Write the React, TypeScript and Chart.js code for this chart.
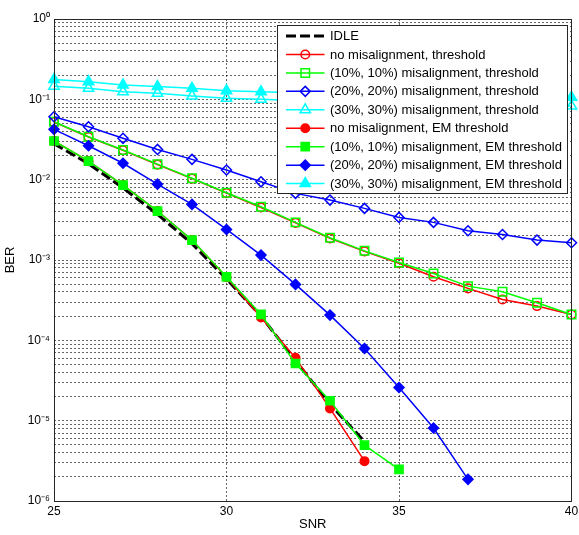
import React, { useEffect, useRef } from 'react';
import { Chart, registerables } from 'chart.js';

Chart.register(...registerables);

// ---- Data ----
const snr = [25, 26, 27, 28, 29, 30, 31, 32, 33, 34, 35, 36, 37, 38, 39, 40];

const idle = [0.028, 0.0158, 0.0079, 0.0037, 0.0016, 0.00058, 0.0002, 5.6e-5, 1.6e-5, 5.5e-6];

const noMisThreshold = [0.052, 0.034, 0.0232, 0.0154, 0.0103, 0.0068, 0.0045, 0.0029, 0.00186, 0.00128, 0.00091, 0.000618, 0.000443, 0.000323, 0.000267, 0.00021];
const mis10Threshold = [0.0526, 0.0342, 0.0234, 0.0156, 0.0104, 0.00687, 0.0046, 0.00294, 0.00189, 0.0013, 0.00093, 0.00068, 0.000473, 0.000402, 0.000293, 0.00021];
const mis20Threshold = [0.0607, 0.0456, 0.0327, 0.0238, 0.0179, 0.0132, 0.0094, 0.00675, 0.00557, 0.00439, 0.00339, 0.00294, 0.00231, 0.00208, 0.00177, 0.00164];
const mis30Threshold = [0.146, 0.137, 0.124, 0.119, 0.11, 0.103, 0.1, 0.097, 0.095, 0.093, 0.091, 0.089, 0.087, 0.085, 0.084, 0.0826];

const noMisEM = [0.0303, 0.017, 0.00857, 0.00407, 0.00177, 0.00061, 0.000193, 6.05e-5, 1.42e-5, 3.13e-6];
const mis10EM = [0.0303, 0.017, 0.00857, 0.00407, 0.00177, 0.000618, 0.00021, 5.15e-5, 1.77e-5, 4.95e-6, 2.47e-6];
const mis20EM = [0.0423, 0.0264, 0.016, 0.0088, 0.00492, 0.0024, 0.00115, 0.000497, 0.000206, 7.9e-5, 2.59e-5, 8.1e-6, 1.86e-6];
const mis30EM = [0.177, 0.166, 0.151, 0.144, 0.137, 0.128, 0.124, 0.121, 0.119, 0.117, 0.115, 0.113, 0.111, 0.109, 0.107, 0.106];

const seriesLabels = [
  'IDLE',
  'no misalignment, threshold',
  '(10%, 10%) misalignment, threshold',
  '(20%, 20%) misalignment, threshold',
  '(30%, 30%) misalignment, threshold',
  'no misalignment, EM threshold',
  '(10%, 10%) misalignment, EM threshold',
  '(20%, 20%) misalignment, EM threshold',
  '(30%, 30%) misalignment, EM threshold',
];
const seriesValues = [idle, noMisThreshold, mis10Threshold, mis20Threshold, mis30Threshold, noMisEM, mis10EM, mis20EM, mis30EM];

const xTicks = [25, 30, 35, 40];
const yDecades = [-6, -5, -4, -3, -2, -1, 0];

// ---- Styles ----
const FONT = "'Liberation Sans', Arial, Helvetica, sans-serif";
type Sty = { color: string; marker: string | null; filled: boolean; r: number; width: number; dash?: number[] };
const styles: Sty[] = [
  { color: '#000000', marker: null, filled: false, r: 0, width: 3, dash: [10, 4] },
  { color: '#ff0000', marker: 'circle', filled: false, r: 4.3, width: 1.5 },
  { color: '#00ff00', marker: 'rect', filled: false, r: 6, width: 1.5 },
  { color: '#0000ff', marker: 'rectRot', filled: false, r: 5, width: 1.5 },
  { color: '#00ffff', marker: 'triangle', filled: false, r: 6, width: 1.5 },
  { color: '#ff0000', marker: 'circle', filled: true, r: 4.3, width: 1.5 },
  { color: '#00ff00', marker: 'rect', filled: true, r: 5.8, width: 1.5 },
  { color: '#0000ff', marker: 'rectRot', filled: true, r: 5, width: 1.5 },
  { color: '#00ffff', marker: 'triangle', filled: true, r: 6, width: 1.5 },
];

const SUP: Record<string, string> = { '0': '⁰', '1': '¹', '2': '²', '3': '³', '4': '⁴', '5': '⁵', '6': '⁶', '7': '⁷', '8': '⁸', '9': '⁹', '-': '⁻' };
const supText = (n: number) => String(n).split('').map((c) => SUP[c] || c).join('');

function yTickValues(): number[] {
  const out: number[] = [];
  for (const k of yDecades) {
    if (k === 0) { out.push(1); break; }
    for (let m = 1; m <= 9; m++) out.push(m * Math.pow(10, k));
  }
  return out;
}

function drawMarker(ctx: CanvasRenderingContext2D, shape: string, x: number, y: number, r: number) {
  ctx.beginPath();
  if (shape === 'circle') {
    ctx.arc(x, y, r, 0, Math.PI * 2);
  } else if (shape === 'rect') {
    const s = Math.SQRT1_2 * r;
    ctx.rect(x - s, y - s, 2 * s, 2 * s);
  } else if (shape === 'rectRot') {
    ctx.moveTo(x - r, y);
    ctx.lineTo(x, y - r);
    ctx.lineTo(x + r, y);
    ctx.lineTo(x, y + r);
    ctx.closePath();
  } else if (shape === 'triangle') {
    for (let i = 0; i < 3; i++) {
      const a = (i * 2 * Math.PI) / 3;
      const px = x + Math.sin(a) * r;
      const py = y - Math.cos(a) * r;
      if (i === 0) ctx.moveTo(px, py); else ctx.lineTo(px, py);
    }
    ctx.closePath();
  }
}

const framePlugin = {
  id: 'frameAndLegend',
  afterDraw(chart: any) {
    const { ctx, chartArea } = chart;
    const { left, top, right, bottom } = chartArea;
    ctx.save();
    // axes box
    ctx.strokeStyle = '#262626';
    ctx.lineWidth = 1;
    ctx.setLineDash([]);
    ctx.strokeRect(Math.round(left) + 0.5, Math.round(top) + 0.5, Math.round(right - left) - 1, Math.round(bottom - top));

    // legend
    const lw = 290, lh = 168;
    const lx = Math.round(right - 5 - lw) + 0.5;
    const ly = Math.round(top + 6) + 0.5;
    ctx.fillStyle = '#ffffff';
    ctx.fillRect(lx, ly, lw, lh);
    ctx.strokeStyle = '#262626';
    ctx.strokeRect(lx, ly, lw, lh);
    const rowH = 18.45;
    ctx.font = `13px ${FONT}`;
    ctx.textBaseline = 'middle';
    ctx.textAlign = 'left';
    seriesLabels.forEach((label, i) => {
      const st = styles[i];
      const cy = ly + 10.5 + i * rowH;
      const x0 = lx + 8.5, x1 = lx + 47;
      ctx.save();
      ctx.strokeStyle = st.color;
      ctx.lineWidth = st.width;
      ctx.setLineDash(st.dash || []);
      ctx.beginPath();
      ctx.moveTo(x0, cy);
      ctx.lineTo(x1, cy);
      ctx.stroke();
      ctx.setLineDash([]);
      if (st.marker) {
        drawMarker(ctx, st.marker, (x0 + x1) / 2, cy, st.r);
        if (st.filled) { ctx.fillStyle = st.color; ctx.fill(); }
        ctx.lineWidth = 1.5;
        ctx.stroke();
      }
      ctx.restore();
      ctx.fillStyle = '#000000';
      ctx.fillText(label, lx + 52.5, cy + 0.5);
    });
    ctx.restore();
  },
};

export default function App() {
  const ref = useRef<HTMLCanvasElement>(null);
  useEffect(() => {
    if (!ref.current) return;
    const datasets = seriesValues.map((vals, i) => {
      const st = styles[i];
      return {
        label: seriesLabels[i],
        data: vals.map((v, j) => ({ x: snr[j], y: v })),
        borderColor: st.color,
        borderWidth: st.width,
        borderDash: st.dash || [],
        pointStyle: st.marker || 'circle',
        pointRadius: st.marker ? st.r : 0,
        pointBorderWidth: 1.5,
        pointBorderColor: st.color,
        pointBackgroundColor: st.filled ? st.color : 'rgba(0,0,0,0)',
        fill: false,
        tension: 0,
        clip: false as any,
        order: seriesValues.length - i,
      };
    });
    const yVals = yTickValues();
    const gridColor = 'rgba(0,0,0,0.6)';
    const chart = new Chart(ref.current, {
      type: 'line',
      data: { datasets },
      plugins: [framePlugin],
      options: {
        animation: false,
        responsive: false,
        devicePixelRatio: 1,
        layout: { padding: { left: 0, top: 19, right: 6, bottom: 0 } },
        plugins: { legend: { display: false }, tooltip: { enabled: false } },
        scales: {
          x: {
            type: 'linear',
            min: 25,
            max: 40,
            afterBuildTicks: (s: any) => { s.ticks = xTicks.map((v) => ({ value: v })); },
            ticks: { padding: 3, color: '#000', font: { family: FONT, size: 12 }, maxRotation: 0, autoSkip: false },
            grid: { color: gridColor, lineWidth: 1, drawTicks: false },
            border: { display: false, dash: [2, 2] },
            title: { display: true, text: 'SNR', color: '#000', font: { family: FONT, size: 13 }, padding: { top: 0, bottom: 3 } },
            afterFit: (s: any) => { s.height = 34; s.paddingLeft = 0; s.paddingRight = 0; },
          },
          y: {
            type: 'logarithmic',
            min: 1e-6,
            max: 1,
            afterBuildTicks: (s: any) => { s.ticks = yVals.map((v) => ({ value: v })); },
            ticks: {
              autoSkip: false,
              padding: 4,
              color: '#000',
              font: { family: FONT, size: 12 },
              callback: (value: any) => {
                const l = Math.log10(Number(value));
                const k = Math.round(l);
                return Math.abs(l - k) < 1e-6 ? '10' + supText(k) : '';
              },
            },
            grid: { color: gridColor, lineWidth: 1, drawTicks: false },
            border: { display: false, dash: [2, 2] },
            title: { display: true, text: 'BER', color: '#000', font: { family: FONT, size: 13 }, padding: { top: 3, bottom: 0 } },
            afterFit: (s: any) => { s.width = 54; s.paddingTop = 0; s.paddingBottom = 0; },
          },
        },
      } as any,
    });
    return () => chart.destroy();
  }, []);
  return (
    <div style={{ position: 'absolute', left: 0, top: 0, width: 579, height: 535, background: '#fff' }}>
      <canvas ref={ref} width={579} height={535} style={{ display: 'block' }} />
    </div>
  );
}
